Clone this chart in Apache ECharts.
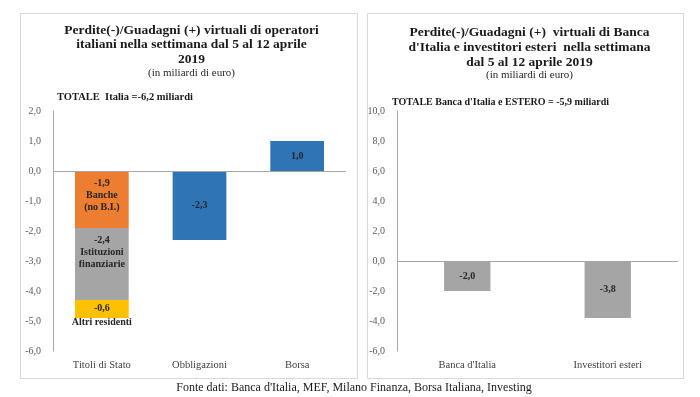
<!DOCTYPE html>
<html>
<head>
<meta charset="utf-8" />
<script src="https://cdn.jsdelivr.net/npm/echarts@6/dist/echarts.min.js"></script>
<style>
  html, body { margin: 0; padding: 0; background: #fff; }
  #chart { width: 700px; height: 397px; }
</style>
</head>
<body>
<div id="chart"></div>
<script>
// pannello sinistro: operatori italiani
var categorieItalia = ['Titoli di Stato', 'Obbligazioni', 'Borsa'];
var banche = [-1.9, '-', '-'];
var istituzioni = [-2.4, '-', '-'];
var altriResidenti = [-0.6, '-', '-'];
var altriStrumenti = ['-', -2.3, 1.0];
var nomiSegmenti = ['Banche\n(no B.I.)', 'Istituzioni\nfinanziarie', 'Altri residenti'];

// pannello destro: Banca d'Italia ed esteri
var categorieEstero = ["Banca d'Italia", 'Investitori esteri'];
var valoriEstero = [-2.0, -3.8];

var font = 'Liberation Serif';

function fmt(v) {
  return Number(v).toFixed(1).replace('.', ',');
}

var chart = echarts.init(document.getElementById('chart'), null, { renderer: 'canvas' });

var yLabel = { fontFamily: font, fontSize: 10, color: '#595959', formatter: fmt, margin: 12 };
var xLabel = { fontFamily: font, fontSize: 10.5, color: '#404040', margin: 9, interval: 0 };
var barLabel = { show: true, fontFamily: font, fontSize: 10, fontWeight: 'bold', color: '#262626', lineHeight: 12 };
var zeroLine = {
  silent: true, symbol: 'none',
  label: { show: false },
  lineStyle: { color: '#a6a6a6', type: 'solid', width: 1 },
  data: [{ yAxis: 0 }]
};

function segLabel(i, pos, dist, lh) {
  return Object.assign({}, barLabel, {
    position: pos, distance: dist, lineHeight: lh,
    formatter: function (p) { return fmt(p.value) + '\n' + nomiSegmenti[i]; }
  });
}

chart.setOption({
  animation: false,
  title: [
    {
      text: 'Perdite(-)/Guadagni (+) virtuali di operatori\nitaliani nella settimana dal 5 al 12 aprile\n2019',
      subtext: '(in miliardi di euro)',
      left: 186.5, top: 18, textAlign: 'center', itemGap: 1,
      textStyle: { fontFamily: font, fontSize: 13.5, fontWeight: 'bold', color: '#1a1a1a', lineHeight: 14.5 },
      subtextStyle: { fontFamily: font, fontSize: 11, color: '#262626' }
    },
    {
      text: "Perdite(-)/Guadagni (+)  virtuali di Banca\nd'Italia e investitori esteri  nella settimana\ndal 5 al 12 aprile 2019",
      subtext: '(in miliardi di euro)',
      left: 524.5, top: 20, textAlign: 'center', itemGap: 0,
      textStyle: { fontFamily: font, fontSize: 13.5, fontWeight: 'bold', color: '#1a1a1a', lineHeight: 15 },
      subtextStyle: { fontFamily: font, fontSize: 11, color: '#262626' }
    },
    {
      text: 'TOTALE  Italia =-6,2 miliardi',
      left: 52, top: 87,
      textStyle: { fontFamily: font, fontSize: 10.5, fontWeight: 'bold', color: '#1a1a1a' }
    },
    {
      text: "TOTALE Banca d'Italia e ESTERO = -5,9 miliardi",
      left: 387, top: 92,
      textStyle: { fontFamily: font, fontSize: 10, fontWeight: 'bold', color: '#1a1a1a' }
    },
    {
      text: "Fonte dati: Banca d'Italia, MEF, Milano Finanza, Borsa Italiana, Investing",
      left: 349, top: 377, textAlign: 'center',
      textStyle: { fontFamily: font, fontSize: 12, fontWeight: 'normal', color: '#1a1a1a' }
    }
  ],
  graphic: [
    { type: 'rect', shape: { x: 20.5, y: 13.5, width: 337, height: 365 }, style: { fill: 'none', stroke: '#d9d9d9', lineWidth: 1 }, silent: true },
    { type: 'rect', shape: { x: 367.5, y: 13.5, width: 316, height: 365 }, style: { fill: 'none', stroke: '#d9d9d9', lineWidth: 1 }, silent: true }
  ],
  grid: [
    { left: 53, right: 354, top: 111, bottom: 46 },
    { left: 397, right: 22, top: 111, bottom: 46 }
  ],
  xAxis: [
    {
      type: 'category', gridIndex: 0, data: categorieItalia,
      axisLine: { show: false, onZero: false }, axisTick: { show: false }, axisLabel: xLabel
    },
    {
      type: 'category', gridIndex: 1, data: categorieEstero,
      axisLine: { show: false, onZero: false }, axisTick: { show: false }, axisLabel: xLabel
    }
  ],
  yAxis: [
    {
      type: 'value', gridIndex: 0, min: -6, max: 2, interval: 1,
      axisLine: { show: true, lineStyle: { color: '#a6a6a6' } }, axisTick: { show: false },
      splitLine: { show: false }, axisLabel: yLabel
    },
    {
      type: 'value', gridIndex: 1, min: -6, max: 10, interval: 2,
      axisLine: { show: true, lineStyle: { color: '#a6a6a6' } }, axisTick: { show: false },
      splitLine: { show: false }, axisLabel: yLabel
    }
  ],
  series: [
    {
      name: 'Banche', type: 'bar', stack: 'titoli', xAxisIndex: 0, yAxisIndex: 0,
      data: banche, barWidth: '55%', itemStyle: { color: '#ED7D31' },
      label: segLabel(0, 'insideTop', 6, 12), markLine: zeroLine
    },
    {
      name: 'Istituzioni finanziarie', type: 'bar', stack: 'titoli', xAxisIndex: 0, yAxisIndex: 0,
      data: istituzioni, barWidth: '55%', itemStyle: { color: '#A5A5A5' },
      label: segLabel(1, 'insideTop', 6, 12)
    },
    {
      name: 'Altri residenti', type: 'bar', stack: 'titoli', xAxisIndex: 0, yAxisIndex: 0,
      data: altriResidenti, barWidth: '55%', itemStyle: { color: '#FFC000' },
      label: segLabel(2, 'insideTop', 1, 14)
    },
    {
      name: 'Altri strumenti', type: 'bar', stack: 'titoli', xAxisIndex: 0, yAxisIndex: 0,
      data: altriStrumenti, barWidth: '55%', itemStyle: { color: '#2E75B6' },
      label: Object.assign({}, barLabel, { position: 'inside', formatter: function (p) { return fmt(p.value); } })
    },
    {
      name: 'Estero', type: 'bar', xAxisIndex: 1, yAxisIndex: 1,
      data: valoriEstero, barWidth: '33%', itemStyle: { color: '#A5A5A5' },
      label: Object.assign({}, barLabel, { position: 'inside', formatter: function (p) { return fmt(p.value); } }),
      markLine: zeroLine
    }
  ]
});
</script>
</body>
</html>
